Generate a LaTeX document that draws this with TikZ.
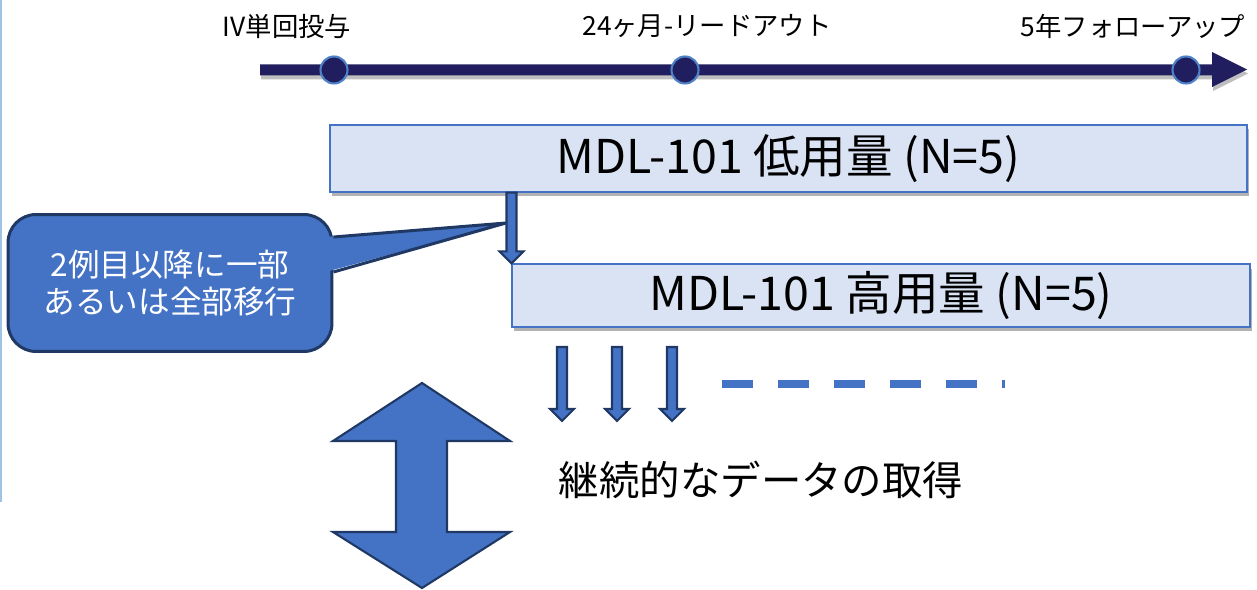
\documentclass[tikz,border=0pt]{standalone}
\usepackage{fontspec}
\setmainfont{Noto Sans CJK JP}
\usetikzlibrary{calc,shadows}

\definecolor{navy}{HTML}{201E5E}
\definecolor{ringblue}{HTML}{4F81C7}
\definecolor{boxfill}{HTML}{DAE3F3}
\definecolor{boxedge}{HTML}{4472C4}
\definecolor{midblue}{HTML}{4472C4}
\definecolor{darkedge}{HTML}{1F3864}
\definecolor{sideline}{HTML}{9DC3E6}

\tikzset{
  milestone/.style={circle, fill=navy, draw=ringblue, line width=1.2pt, minimum size=0.54cm, inner sep=0pt},
  stage/.style={font=\fontsize{15}{18}\selectfont, inner sep=0pt},
  phase/.style={draw=boxedge, fill=boxfill, line width=0.7pt, inner sep=0pt,
    font=\fontsize{26.5}{30}\selectfont,
    drop shadow={shadow xshift=0.04cm, shadow yshift=-0.09cm, opacity=0.3, fill=black}},
  blockarrow/.style={fill=midblue, draw=darkedge, line width=1.2pt, line join=miter},
  callout/.style={fill=midblue, draw=darkedge, line width=1.7pt, rounded corners=0.56cm,
    text=white, align=center, font=\fontsize{18}{21}\selectfont,
    minimum width=6.48cm, minimum height=2.74cm},
}

% vertical block arrow from #1 down to tip #2
\newcommand\blockdown[2]{%
  \draw[blockarrow] ($(#1)+(-5,0)$) -- ($(#2)+(-5,-12)$) -- ($(#2)+(-12,-12)$) -- (#2)
    -- ($(#2)+(12,-12)$) -- ($(#2)+(5,-12)$) -- ($(#1)+(5,0)$) -- cycle;}

\begin{document}
\begin{tikzpicture}[x=0.02cm, y=-0.02cm]
\useasboundingbox (0,0) rectangle (1257,590);
\draw[sideline, line width=1.2pt] (1,0) -- (1,502);

% timeline
\fill[navy, drop shadow={shadow xshift=0.02cm, shadow yshift=-0.08cm, opacity=0.25, fill=black}]
  (260,64.5) -- (1212,64.5) -- (1212,52) -- (1247,69.5) -- (1212,87) -- (1212,75.5) -- (260,75.5) -- cycle;
\node[milestone] (m1) at (334,70) {};
\node[milestone] (m2) at (685,70) {};
\node[milestone] (m3) at (1186,70) {};
\node[stage] (l1) at (287,26) {IV単回投与};
\node[stage] (l2) at (707,26) {24ヶ月-リードアウト};
\node[stage] (l3) at (1133,26) {5年フォローアップ};

% cohorts
\node[phase, minimum width=18.34cm, minimum height=1.34cm] (low) at (788.5,158.5) {MDL-101 低用量 (N=5)};
\node[phase, minimum width=14.76cm, minimum height=1.26cm] (high) at (881,295.5) {MDL-101 高用量 (N=5)};
\blockdown{low.south -| high.north west}{high.north west}

% callout
\node[callout] (note) at (170,283) {2例目以降に一部\\あるいは全部移行};
\coordinate (tip) at (506,223);
\fill[midblue] ($(note.east)+(-8,-46)$) -- (tip) -- ($(note.east)+(-8,-11)$) -- cycle;
\draw[darkedge, line width=1.7pt, line join=miter] ($(note.east)+(0,-46)$) -- (tip) -- ($(note.east)+(0,-11)$);

% continued data
\foreach \x [count=\i] in {562,617,672} {
  \coordinate (s\i) at (\x,347);
  \coordinate (e\i) at (\x,421);
  \blockdown{s\i}{e\i}
}
\draw[midblue, line width=0.15cm, dash pattern=on 0.62cm off 0.5cm] (722,384) -- (1005,384);
\draw[blockarrow] (422,383) -- (510,441) -- (447,441) -- (447,532) -- (510,532) -- (422,588)
  -- (333,532) -- (396,532) -- (396,441) -- (333,441) -- cycle;
\node[font=\fontsize{23}{28}\selectfont, inner sep=0pt] (data) at (761,480) {継続的なデータの取得};
\end{tikzpicture}
\end{document}
